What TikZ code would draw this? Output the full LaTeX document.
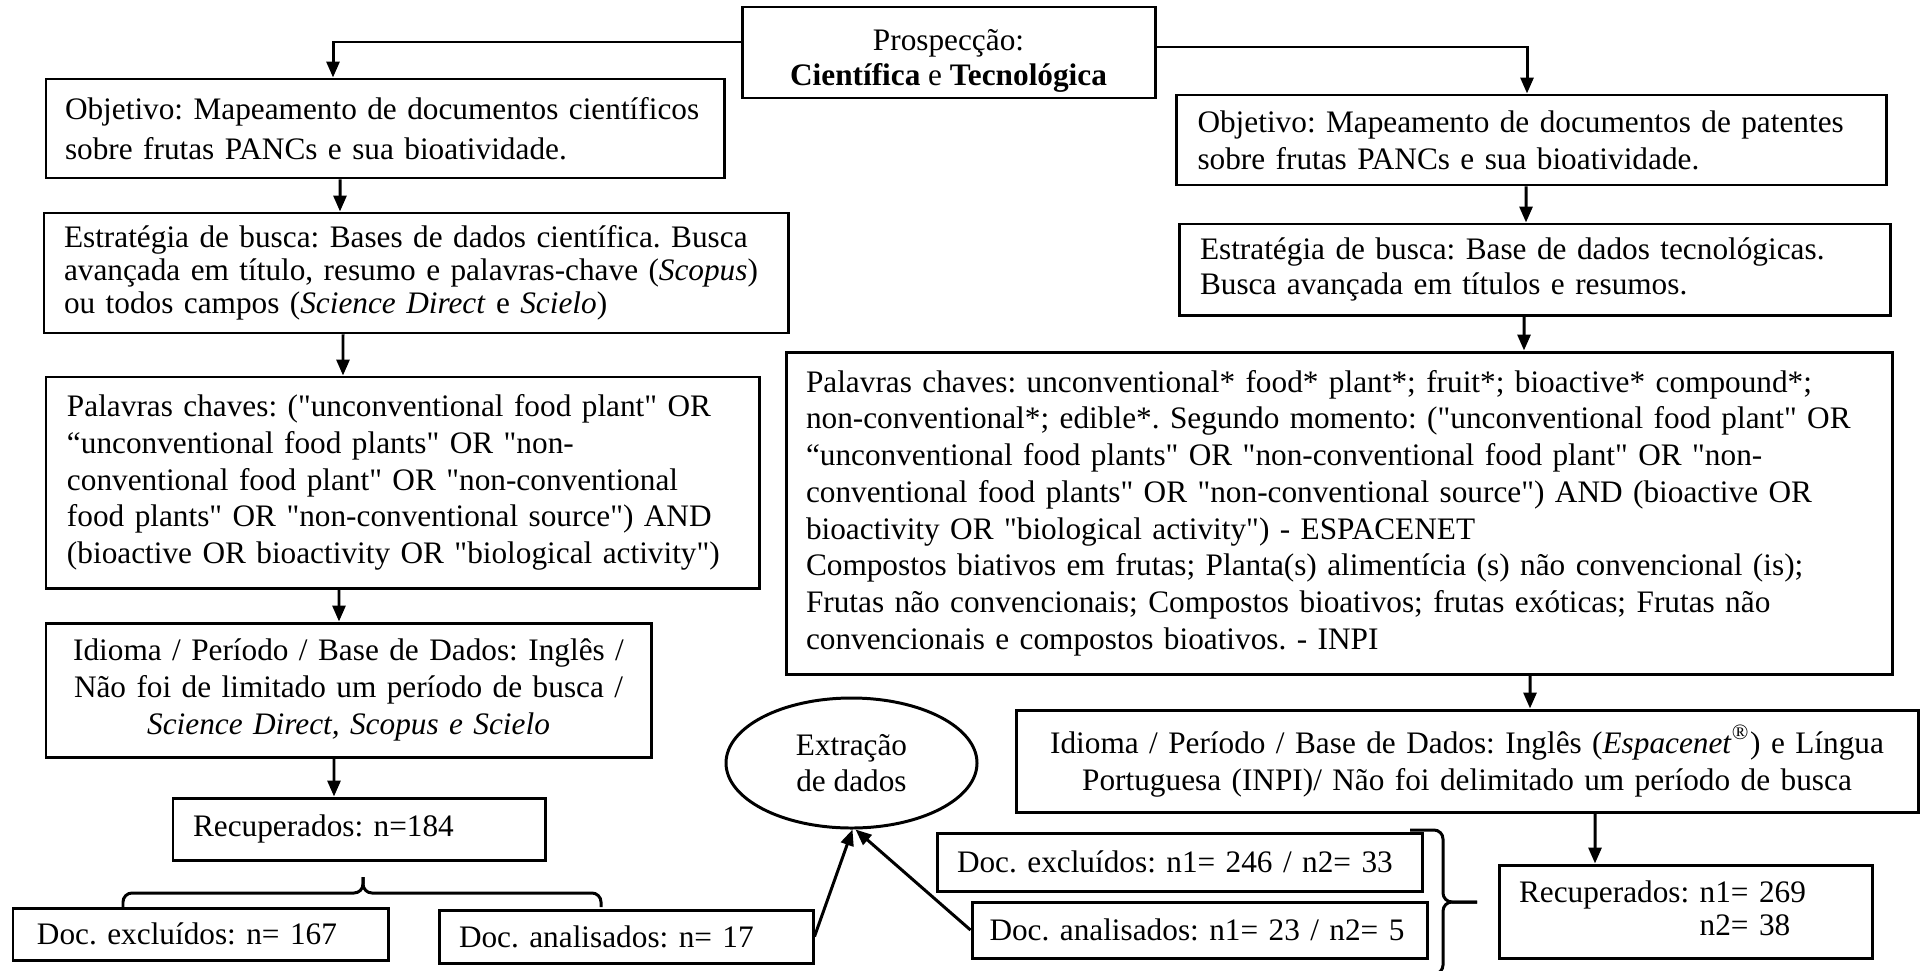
\documentclass[tikz,border=0pt]{standalone}
\usepackage{fontspec}
\setmainfont{Liberation Serif}[Ligatures=TeXOff]
\usetikzlibrary{arrows.meta, shapes.geometric}
\newcommand{\bsk}[1]{\fontsize{8.9}{#1}\selectfont}

\begin{document}
\frenchspacing
\lineskiplimit=-20pt
\begin{tikzpicture}[
  box/.style={draw, line width=0.85pt, inner ysep=0pt, align=left, font=\bsk{10.4}},
  arr/.style={line width=0.85pt, -{Triangle[length=1.6mm, width=1.3mm]}},
  brace/.style={line width=0.85pt, rounded corners=0.9mm}
]
\useasboundingbox (0,0) rectangle (19.26,-9.70);

\node[box, align=center, inner xsep=0pt, minimum width=4.13cm, minimum height=0.91cm, font=\bsk{10}] (pros) at (9.485,-0.525)
  {\rule{0pt}{10.6pt}Prospecção:\\ \textbf{Científica} e \textbf{Tecnológica}};

\node[box, text width=6.4cm, inner xsep=0.19cm, minimum height=0.99cm, font=\bsk{11.4}] (objL) at (3.85,-1.285)
  {Objetivo: Mapeamento de documentos científicos\\ sobre frutas PANCs e sua bioatividade.};
\node[box, text width=7.04cm, inner xsep=0.2cm, minimum height=1.2cm, font=\bsk{9.4}] (estL) at (4.16,-2.73)
  {Estratégia de busca: Bases de dados científica. Busca\\
   avançada em título, resumo e palavras-chave (\textit{Scopus})\\
   ou todos campos (\textit{Science Direct} e \textit{Scielo})};
\node[box, text width=6.71cm, inner xsep=0.21cm, minimum height=2.11cm, font=\bsk{10.45}] (palL) at (4.025,-4.825)
  {Palavras chaves: ("unconventional food plant" OR\\
   “unconventional food plants" OR "non-\\
   conventional food plant" OR "non-conventional\\
   food plants" OR "non-conventional source") AND\\
   (bioactive OR bioactivity OR "biological activity")};
\node[box, align=center, text width=5.85cm, inner xsep=0.1cm, minimum height=1.34cm, font=\bsk{10.65}] (idiL) at (3.485,-6.90)
  {Idioma / Período / Base de Dados: Inglês /\\
   Não foi de limitado um período de busca /\\
   \textit{Science Direct, Scopus e Scielo}};
\node[box, text width=3.32cm, inner xsep=0.2cm, minimum height=0.62cm] (recL) at (3.59,-8.29)
  {Recuperados: n=184};
\node[box, text width=3.27cm, inner xsep=0.24cm, minimum height=0.52cm] (excL) at (2.005,-9.34)
  {Doc. excluídos: n= 167};
\node[box, text width=3.34cm, inner xsep=0.2cm, minimum height=0.53cm] (anaL) at (6.26,-9.365)
  {Doc. analisados: n= 17};

\node[draw, ellipse, line width=0.85pt, inner sep=0pt, minimum width=2.51cm, minimum height=1.30cm, align=center, font=\bsk{10.2}] (extr) at (8.515,-7.63)
  {Extração\\de dados};

\node[box, text width=6.67cm, inner xsep=0.215cm, minimum height=0.90cm, font=\bsk{10.5}] (objR) at (15.31,-1.40)
  {\makebox[6.67cm][s]{Objetivo: Mapeamento de documentos de patentes}\\
   sobre frutas PANCs e sua bioatividade.};
\node[box, text width=6.69cm, inner xsep=0.21cm, minimum height=0.91cm, font=\bsk{10}] (estR) at (15.345,-2.695)
  {\makebox[6.69cm][s]{Estratégia de busca: Base de dados tecnológicas.}\\
   Busca avançada em títulos e resumos.};
\node[box, text width=10.66cm, inner xsep=0.2cm, minimum height=3.22cm, font=\bsk{10.45}] (palR) at (13.39,-5.13)
  {Palavras chaves: unconventional* food* plant*; fruit*; bioactive* compound*;\\
   non-conventional*; edible*. Segundo momento: ("unconventional food plant" OR\\
   “unconventional food plants" OR "non-conventional food plant" OR "non-\\
   conventional food plants" OR "non-conventional source") AND (bioactive OR\\
   bioactivity OR "biological activity") - ESPACENET\\
   Compostos biativos em frutas; Planta(s) alimentícia (s) não convencional (is);\\
   Frutas não convencionais; Compostos bioativos; frutas exóticas; Frutas não\\
   convencionais e compostos bioativos. - INPI};
\node[box, align=center, text width=8.82cm, inner xsep=0.1cm, minimum height=1.02cm, font=\bsk{10.5}] (idiR) at (14.67,-7.61)
  {Idioma / Período / Base de Dados: Inglês (\textit{Espacenet}\textsuperscript{®}) e Língua\\
   Portuguesa (INPI)/ Não foi delimitado um período de busca};
\node[box, text width=3.33cm, inner xsep=0.2cm, minimum height=0.93cm, font=\bsk{9.4}] (recR) at (16.855,-9.115)
  {Recuperados: n1= 269\\ \phantom{Recuperados:}\ n2= 38};
\node[box, text width=4.45cm, inner xsep=0.2cm, minimum height=0.58cm] (excR) at (11.795,-8.62)
  {Doc. excluídos: n1= 246 / n2= 33};
\node[box, text width=4.2cm, inner xsep=0.175cm, minimum height=0.56cm] (anaR) at (11.995,-9.30)
  {\mbox{Doc. analisados: n1= 23 / n2= 5}};

\draw[arr] ([yshift=1.05mm]pros.west) -| ([xshift=-5.2mm]objL.north);
\draw[arr] ([xshift=-4.5mm]objL.south) -- ([xshift=-7.6mm]estL.north);
\draw[arr] ([xshift=-7.3mm]estL.south) -- ([xshift=-5.95mm]palL.north);
\draw[arr] ([xshift=-6.35mm]palL.south) -- ([xshift=-0.95mm]idiL.north);
\draw[arr] ([xshift=-1.45mm]idiL.south) -- ([xshift=-2.5mm]recL.north);
\draw[arr] ([yshift=0.55mm]pros.east) -| ([xshift=-0.4mm]objR.north);
\draw[arr] ([xshift=-0.5mm]objR.south) -- ([xshift=-0.85mm]estR.north);
\draw[arr] ([xshift=-1.05mm]estR.south) -- ([xshift=18.5mm]palR.north);
\draw[arr] ([xshift=19.1mm]palR.south) -- ([xshift=6.3mm]idiR.north);
\draw[arr] ([xshift=12.8mm]idiR.south) -- ([xshift=-9.05mm]recR.north);
\draw[arr] (anaL.east) -- ([xshift=0.1mm]extr.south);
\draw[arr] (anaR.west) -- ([xshift=0.4mm]extr.south);

\draw[brace] (1.23,-9.07) |- (3.63,-8.93) -- (3.63,-8.77);
\draw[brace] (3.63,-8.77) -- (3.63,-8.93) -| (6.01,-9.07);
\draw[brace] (14.10,-8.30) -| (14.43,-9.02) -- (14.77,-9.02);
\draw[brace] (14.77,-9.02) -- (14.43,-9.02) |- (14.10,-9.74);
\end{tikzpicture}
\end{document}
